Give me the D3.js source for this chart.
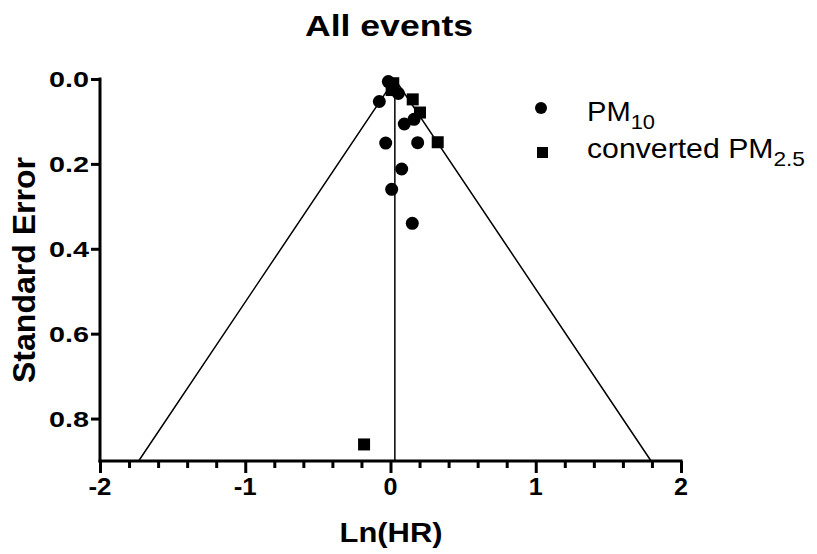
<!DOCTYPE html>
<html><head><meta charset="utf-8">
<script src="https://cdn.jsdelivr.net/npm/d3@7"></script>
<style>body{margin:0;background:#fff}text{font-family:"Liberation Sans",Arial,sans-serif;fill:#000}</style>
</head><body><svg id="c" width="817" height="554"></svg>
<script>
const pm10X = [-0.015, 0.054, -0.077, 0.162, 0.095, -0.033, 0.187, 0.077, 0.008, 0.150];
const pm10SE = [0.006, 0.034, 0.053, 0.095, 0.106, 0.151, 0.150, 0.212, 0.260, 0.340];
const pm25X = [0.019, 0.008, 0.153, 0.203, 0.325, -0.182];
const pm25SE = [0.010, 0.026, 0.048, 0.079, 0.149, 0.861];
const pooled = 0.03;
const xTicks = [-2, -1, 0, 1, 2];
const yTicks = [0.0, 0.2, 0.4, 0.6, 0.8];

const svg = d3.select("#c");
const x = d3.scaleLinear().domain([-2, 2]).range([100, 681]);
const y = d3.scaleLinear().domain([0, 0.9]).range([79, 461]);

// funnel
const g = svg.append("g");
const seMax = 0.9;
g.append("path")
  .attr("d", d3.line()([[x(pooled - 1.96*seMax), y(seMax)], [x(pooled), y(0)], [x(pooled + 1.96*seMax), y(seMax)]]))
  .attr("fill", "none").attr("stroke", "#000").attr("stroke-width", 1.5);
g.append("line").attr("x1", x(pooled)).attr("x2", x(pooled)).attr("y1", y(0)).attr("y2", y(seMax))
  .attr("stroke", "#000").attr("stroke-width", 1.5);

// axes
const xAxis = svg.append("g").attr("transform", `translate(0,${y(0.9)})`)
  .call(d3.axisBottom(x).tickValues(d3.range(-2, 2.001, 0.2)).tickSize(7).tickFormat(""));
xAxis.selectAll(".tick line").attr("stroke-width", 3);
xAxis.select(".domain").attr("stroke-width", 3).attr("d", `M${x(-2)-1.5},0H${x(2)+1.5}`);
xAxis.selectAll(".tick").filter(d => Math.abs(d - Math.round(d)) < 1e-6).select("line").attr("y2", 12);
svg.append("g").selectAll("text").data(xTicks).join("text")
  .attr("x", d => x(d)).attr("y", 495).attr("text-anchor", "middle")
  .attr("textLength", d => String(d).length > 1 ? 23 : 14).attr("lengthAdjust", "spacingAndGlyphs")
  .style("font-size", "23px").style("font-weight", "bold").text(d => d);

const yAxis = svg.append("g").attr("transform", `translate(${x(-2)},0)`)
  .call(d3.axisLeft(y).tickValues(yTicks).tickSize(9).tickFormat(""));
yAxis.selectAll(".tick line").attr("stroke-width", 3);
yAxis.select(".domain").attr("stroke-width", 3).attr("d", `M0,${y(0)-1.5}V${y(0.9)+1.5}`);
svg.append("g").selectAll("text").data(yTicks).join("text")
  .attr("x", 89).attr("y", d => y(d) + 8).attr("text-anchor", "end")
  .attr("textLength", 40).attr("lengthAdjust", "spacingAndGlyphs")
  .style("font-size", "22px").style("font-weight", "bold").text(d => d.toFixed(1));

// titles
svg.append("text").attr("x", 389).attr("y", 36).attr("text-anchor", "middle")
  .attr("textLength", 168).attr("lengthAdjust", "spacingAndGlyphs")
  .style("font-size", "29px").style("font-weight", "bold").text("All events");
svg.append("text").attr("x", 391).attr("y", 542).attr("text-anchor", "middle")
  .attr("textLength", 103).attr("lengthAdjust", "spacingAndGlyphs")
  .style("font-size", "27px").style("font-weight", "bold").text("Ln(HR)");
svg.append("text").attr("transform", "translate(35,270) rotate(-90)").attr("text-anchor", "middle")
  .attr("textLength", 226).attr("lengthAdjust", "spacingAndGlyphs")
  .style("font-size", "31px").style("font-weight", "bold").text("Standard Error");

// points
const pts = svg.append("g");
pts.selectAll("circle").data(pm10X.map((d, i) => [d, pm10SE[i]])).join("circle")
  .attr("cx", d => x(d[0])).attr("cy", d => y(d[1])).attr("r", 6.5).attr("fill", "#000");
pts.selectAll("rect").data(pm25X.map((d, i) => [d, pm25SE[i]])).join("rect")
  .attr("x", d => x(d[0]) - 6).attr("y", d => y(d[1]) - 6).attr("width", 12).attr("height", 12).attr("fill", "#000");

// legend
const lg = svg.append("g");
lg.append("circle").attr("cx", 541).attr("cy", 108).attr("r", 6).attr("fill", "#000");
lg.append("rect").attr("x", 537).attr("y", 147).attr("width", 11).attr("height", 11).attr("fill", "#000");
const t1 = lg.append("text").attr("x", 587).attr("y", 121).style("font-size", "28px")
  .attr("textLength", 68).attr("lengthAdjust", "spacingAndGlyphs");
t1.append("tspan").text("PM");
t1.append("tspan").attr("dy", 8).style("font-size", "21px").text("10");
const t2 = lg.append("text").attr("x", 587).attr("y", 158).style("font-size", "28px")
  .attr("textLength", 218).attr("lengthAdjust", "spacingAndGlyphs");
t2.append("tspan").text("converted PM");
t2.append("tspan").attr("dy", 8).style("font-size", "21px").text("2.5");
</script></body></html>
